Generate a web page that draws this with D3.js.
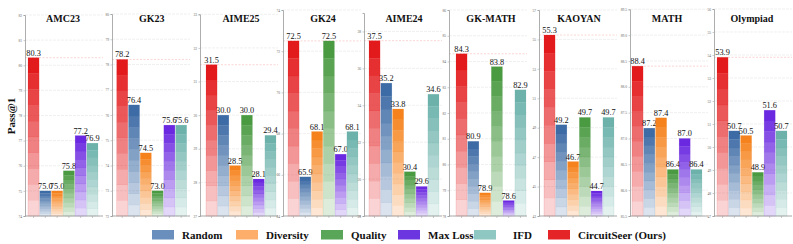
<!DOCTYPE html>
<html><head><meta charset="utf-8">
<script src="https://cdn.jsdelivr.net/npm/d3@7"></script>
<style>body{margin:0;background:#fff;} svg{display:block;}</style>
</head><body>
<svg id="chart" width="793" height="244"></svg>
<script>
// ---- data ----
const benchmarks = ["AMC23","GK23","AIME25","GK24","AIME24","GK-MATH","KAOYAN","MATH","Olympiad"];
const methods = ["CircuitSeer (Ours)","Random","Diversity","Quality","Max Loss","IFD"];
const circuitSeer = [80.3,78.2,31.5,72.5,37.5,84.3,55.3,88.4,53.9];
const random      = [75.0,76.4,30.0,65.9,35.2,80.9,49.2,87.2,50.7];
const diversity   = [75.0,74.5,28.5,68.1,33.8,78.9,46.7,87.4,50.5];
const quality     = [75.8,73.0,30.0,72.5,30.4,83.8,49.7,86.4,48.9];
const maxLoss     = [77.2,75.6,28.1,67.0,29.6,78.6,44.7,87.0,51.6];
const ifd         = [76.9,75.6,29.4,68.1,34.6,82.9,49.7,86.4,50.7];
const yMin  = [74,72,27,64,28,78,43,85.5,47];
const yMax  = [82,80,33,74,39,86,57,89.5,56];
const yStep = [1,1,1,2,2,1,2,0.5,1];
const legendOrder = ["Random","Diversity","Quality","Max Loss","IFD","CircuitSeer (Ours)"];
const yLabel = "Pass@1";

// ---- styles / layout ----
const colors = {
  "CircuitSeer (Ours)":"#e31a1c","Random":"#3d6ba5","Diversity":"#f5821c",
  "Quality":"#4a9a42","Max Loss":"#6a28e0","IFD":"#6cb2ab"
};
const legendColors = {
  "CircuitSeer (Ours)":"#e42427","Random":"#6a8fbc","Diversity":"#fdae6b",
  "Quality":"#5aa658","Max Loss":"#6b36e0","IFD":"#8fc7c2"
};
const series = {"CircuitSeer (Ours)":circuitSeer,"Random":random,"Diversity":diversity,
  "Quality":quality,"Max Loss":maxLoss,"IFD":ifd};

const axisX = [25,112,200,283,364,449,539,630,714];
const barOff = [3,4.7,6,5,5,7,5,2,3];
const yTop = [15,14,14.3,10,13,10,10,9.3,9];
const yBottom = 216;
const barsWidth = 70;
const panelWidth = 78;
const nBands = 10;
const serif = "Liberation Serif, DejaVu Serif, serif";

const svg = d3.select("#chart");

benchmarks.forEach((b, i) => {
  const g = svg.append("g");
  const x0 = axisX[i];
  const y = d3.scaleLinear().domain([yMin[i], yMax[i]]).range([yBottom, yTop[i]]);
  const x = d3.scaleBand().domain(methods).range([x0 + barOff[i], x0 + barOff[i] + barsWidth]).paddingInner(0.06);
  const ticks = d3.range(yMin[i], yMax[i] + 1e-9, yStep[i]);

  g.selectAll(".grid").data(ticks).join("line")
    .attr("x1", x0).attr("x2", x0 + panelWidth)
    .attr("y1", d => y(d)).attr("y2", d => y(d))
    .attr("stroke", "#e6e6e6").attr("stroke-width", 0.6).attr("stroke-dasharray", "3,1");

  const ref = circuitSeer[i];
  g.append("line").attr("x1", x0).attr("x2", x0 + panelWidth)
    .attr("y1", y(ref)).attr("y2", y(ref))
    .attr("stroke", "#f08a8a").attr("stroke-opacity", 0.6).attr("stroke-width", 0.6)
    .attr("stroke-dasharray", "2,1.5");

  methods.forEach(m => {
    const v = series[m][i];
    const top = y(v), h = yBottom - top, bh = h / nBands;
    const bx = x(m), bw = x.bandwidth();
    g.selectAll(null).data(d3.range(nBands)).join("rect")
      .attr("x", bx).attr("width", bw)
      .attr("y", k => top + k * bh).attr("height", bh + 0.2)
      .attr("fill", colors[m]).attr("fill-opacity", k => 1 - k * 0.09);
    g.append("rect").attr("x", bx).attr("y", top).attr("width", bw).attr("height", h)
      .attr("fill", "none").attr("stroke", colors[m]).attr("stroke-opacity", 0.25).attr("stroke-width", 0.5);
    g.append("text").attr("x", bx + bw / 2).attr("y", top - 2)
      .attr("text-anchor", "middle").attr("font-family", serif).attr("font-size", 8.3)
      .attr("fill", "#111").text(v.toFixed(1));
  });

  const yAxis = d3.axisLeft(y).tickValues(ticks).tickSize(1.5).tickPadding(1.5)
    .tickFormat(d => yStep[i] < 1 ? d.toFixed(1) : d3.format("d")(d));
  const ya = g.append("g").attr("transform", `translate(${x0},0)`).call(yAxis);
  ya.select(".domain").attr("stroke", "#999").attr("stroke-width", 0.8);
  ya.selectAll(".tick line").attr("stroke", "#999").attr("stroke-width", 0.5);
  ya.selectAll(".tick text").attr("font-size", 3.6).attr("fill", "#666").attr("font-family", serif);

  const xAxis = d3.axisBottom(x).tickSize(2).tickFormat("");
  const xa = g.append("g").attr("transform", `translate(0,${yBottom})`).call(xAxis);
  xa.select(".domain").remove();
  xa.selectAll(".tick line").attr("stroke", "#999").attr("stroke-width", 0.5);
  g.append("line").attr("x1", x0).attr("x2", x0 + panelWidth).attr("y1", yBottom).attr("y2", yBottom)
    .attr("stroke", "#999").attr("stroke-width", 0.8);

  g.append("text").attr("x", x0 + barOff[i] + barsWidth / 2).attr("y", 22)
    .attr("text-anchor", "middle").attr("font-family", serif).attr("font-weight", "bold")
    .attr("font-size", 10).attr("fill", "#111").text(b);
});

svg.append("text").attr("transform", "translate(15,116) rotate(-90)")
  .attr("text-anchor", "middle").attr("font-family", serif).attr("font-weight", "bold")
  .attr("font-size", 11).attr("fill", "#111").text(yLabel);

const legX = [152, 236, 321, 398, 474, 548];
const lg = svg.append("g");
legendOrder.forEach((m, k) => {
  lg.append("rect").attr("x", legX[k]).attr("y", 230).attr("width", 22).attr("height", 9.5)
    .attr("fill", legendColors[m]);
  lg.append("text").attr("x", legX[k] + (m === "IFD" ? 39 : 30)).attr("y", 238.5)
    .attr("font-family", serif).attr("font-weight", "bold").attr("font-size", 11)
    .attr("fill", "#111").text(m);
});
</script>
</body></html>
